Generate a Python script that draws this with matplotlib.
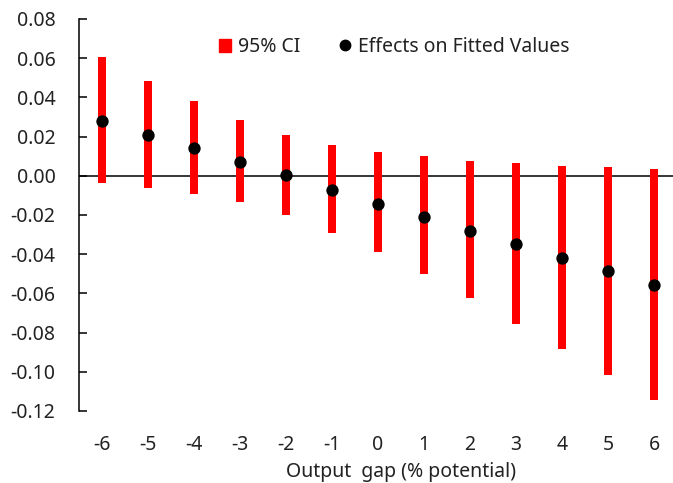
import numpy as np
import matplotlib.pyplot as plt
from matplotlib.patches import Patch
from matplotlib.lines import Line2D

plt.rcParams['font.family'] = ['Noto Sans', 'DejaVu Sans']

gap = [-6, -5, -4, -3, -2, -1, 0, 1, 2, 3, 4, 5, 6]
effect = [0.028, 0.0206, 0.0142, 0.0068, 0.0005, -0.0070, -0.0143,
          -0.0210, -0.0280, -0.0346, -0.0417, -0.0485, -0.0555]
ci_high = [0.0607, 0.0485, 0.0380, 0.0285, 0.0210, 0.0157, 0.0122,
           0.0099, 0.0073, 0.0066, 0.0051, 0.0043, 0.0034]
ci_low = [-0.0036, -0.0062, -0.0095, -0.0136, -0.0200, -0.0290, -0.0388,
          -0.0500, -0.0623, -0.0754, -0.0883, -0.1016, -0.1143]
yticks = [0.08, 0.06, 0.04, 0.02, 0.0, -0.02, -0.04, -0.06, -0.08, -0.10, -0.12]

W, H = 673, 483
fs = 14
fig = plt.figure(figsize=(W / 100, H / 100), dpi=100)
ax = fig.add_axes([79 / W, 72 / H, (673 - 79) / W, 392 / H])

x = np.array(gap)
low = np.array(ci_low)
high = np.array(ci_high)
ax.bar(x, high - low, bottom=low, width=0.16, color='#ff0000', zorder=2)
ax.scatter(x, effect, s=62, color='black', zorder=3)
ax.axhline(0, color='black', lw=1.1, zorder=1)

ax.set_xlim(-6.5, -6.5 + (673 - 79) / 46)
ax.set_ylim(-0.12, 0.08)
ax.set_yticks(yticks)
ax.set_yticklabels(['%.2f' % v for v in yticks])
ax.set_xticks(gap)
ax.set_xticklabels([str(g) for g in gap])

for s in ['top', 'right', 'bottom']:
    ax.spines[s].set_visible(False)
ax.spines['left'].set_linewidth(1.1)
ax.tick_params(axis='y', direction='in', length=6, width=1.1, pad=17,
               labelsize=fs, colors='black', labelcolor='#222222')
ax.tick_params(axis='x', length=0, pad=17, labelsize=fs, labelcolor='#222222')

fig.text(401 / W, 1 - 472 / H, 'Output  gap (% potential)', ha='center', va='center',
         fontsize=fs, color='#222222')

handles = [Patch(color='#ff0000', label='95% CI'),
           Line2D([], [], marker='o', ls='none', color='black', markersize=7.5,
                  label='Effects on Fitted Values')]
fig.legend(handles=handles, loc='center left', bbox_to_anchor=(201 / W, 1 - 47 / H),
           ncol=2, frameon=False, fontsize=fs, handlelength=0.62, handleheight=0.67,
           handletextpad=0.36, columnspacing=2.0, labelcolor='#222222')

fig.savefig('out.png', dpi=100)
